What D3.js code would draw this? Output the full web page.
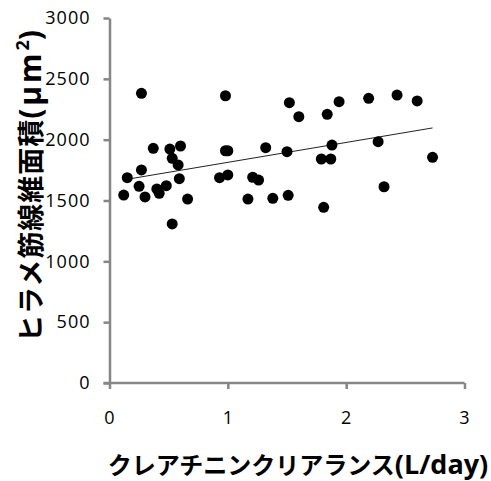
<!DOCTYPE html>
<meta charset="utf-8">
<style>
	body { margin: 0; background: #fff; }
	.axis path, .axis line { stroke: #868686; stroke-width: 2.5px; }
	.axis text { font-family: "Open Sans", sans-serif; font-size: 18px; letter-spacing: 1px; fill: #000; }
	.dot { fill: #000; }
	.trend { stroke: #222; stroke-width: 1px; fill: none; }
	.title { font-family: "Noto Sans CJK JP", sans-serif; font-weight: bold; fill: #000; }
</style>
<body>
<div id="chart"></div>
<script src="https://d3js.org/d3.v7.min.js"></script>
<script>
	// creatinine clearance (L/day)
	var clearance = [
		0.27, 0.98, 1.52, 1.60, 1.84, 1.94, 2.19, 2.43, 2.60,
		0.37, 0.51, 0.60, 0.53, 0.58, 0.27, 0.15, 0.59, 0.25,
		0.40, 0.42, 0.48, 0.12, 0.30, 0.66, 0.53, 0.98, 1.00,
		1.32, 1.50, 0.93, 1.00, 1.21, 1.26, 1.17, 1.38, 1.51,
		1.88, 2.27, 1.79, 1.87, 2.73, 2.32, 1.81
	];
	// soleus fiber area (um2)
	var fiber_area = [
		2381, 2361, 2304, 2189, 2208, 2312, 2340, 2367, 2318,
		1929, 1923, 1948, 1847, 1792, 1751, 1688, 1679, 1617,
		1595, 1559, 1622, 1545, 1529, 1512, 1307, 1909, 1909,
		1934, 1901, 1688, 1710, 1691, 1668, 1512, 1518, 1543,
		1956, 1983, 1841, 1841, 1855, 1613, 1444
	];
	var x_ticks = [0, 1, 2, 3];
	var y_ticks = [0, 500, 1000, 1500, 2000, 2500, 3000];

	var width = 491, height = 481;

	var x = d3.scaleLinear().domain([0, 3]).range([109.5, 464.5]);
	var y = d3.scaleLinear().domain([0, 3000]).range([383, 18]);

	var svg = d3.select("#chart").append("svg")
			.attr("width", width)
			.attr("height", height);

	// x axis
	var xa = svg.append("g")
			.attr("class", "axis")
			.attr("transform", "translate(0," + y(0) + ")")
			.call(d3.axisBottom(x).tickValues(x_ticks).tickFormat(d3.format("d"))
				.tickSize(6).tickSizeOuter(0).tickPadding(22));
	xa.select(".domain").attr("d", "M" + (x(0) - 6) + ",0H" + x(3));

	// y axis
	svg.append("g")
			.attr("class", "axis")
			.attr("transform", "translate(" + x(0) + ",0)")
			.call(d3.axisLeft(y).tickValues(y_ticks).tickFormat(d3.format("d"))
				.tickSize(6).tickSizeOuter(0).tickPadding(13));

	// linear trend line (least squares)
	var n = clearance.length;
	var mx = d3.mean(clearance), my = d3.mean(fiber_area);
	var sxy = 0, sxx = 0;
	for (var i = 0; i < n; i++) {
		sxy += (clearance[i] - mx) * (fiber_area[i] - my);
		sxx += (clearance[i] - mx) * (clearance[i] - mx);
	}
	var slope = sxy / sxx, intercept = my - slope * mx;
	var x_ext = d3.extent(clearance);
	svg.append("line")
			.attr("class", "trend")
			.attr("x1", x(x_ext[0])).attr("y1", y(intercept + slope * x_ext[0]))
			.attr("x2", x(x_ext[1])).attr("y2", y(intercept + slope * x_ext[1]));

	// points
	svg.selectAll(".dot")
			.data(d3.range(n))
			.enter().append("circle")
			.attr("class", "dot")
			.attr("cx", function (i) { return x(clearance[i]); })
			.attr("cy", function (i) { return y(fiber_area[i]); })
			.attr("r", 5.5);

	// x title
	var xt = svg.append("text")
			.attr("class", "title")
			.attr("x", 298).attr("y", 474)
			.attr("text-anchor", "middle")
			.style("font-size", "24px");
	xt.append("tspan").text("クレアチニンクリアランス");
	xt.append("tspan").style("font-family", "'Open Sans', sans-serif").style("font-size", "27px").text("(L/day)");

	// y title
	var yt = svg.append("text")
			.attr("class", "title")
			.attr("transform", "translate(41,186) rotate(-90)")
			.attr("text-anchor", "middle")
			.style("font-size", "27px");
	yt.append("tspan").style("letter-spacing", "1px").text("ヒラメ筋線維面積");
	yt.append("tspan").style("font-family", "'Open Sans', sans-serif").style("font-size", "30px")
			.style("letter-spacing", "3px").text("(μm");
	yt.append("tspan").style("font-family", "'Open Sans', sans-serif").style("font-size", "18px").attr("dy", -12).text("2");
	yt.append("tspan").style("font-family", "'Open Sans', sans-serif").style("font-size", "30px").attr("dy", 12).text(")");
</script>
</body>
